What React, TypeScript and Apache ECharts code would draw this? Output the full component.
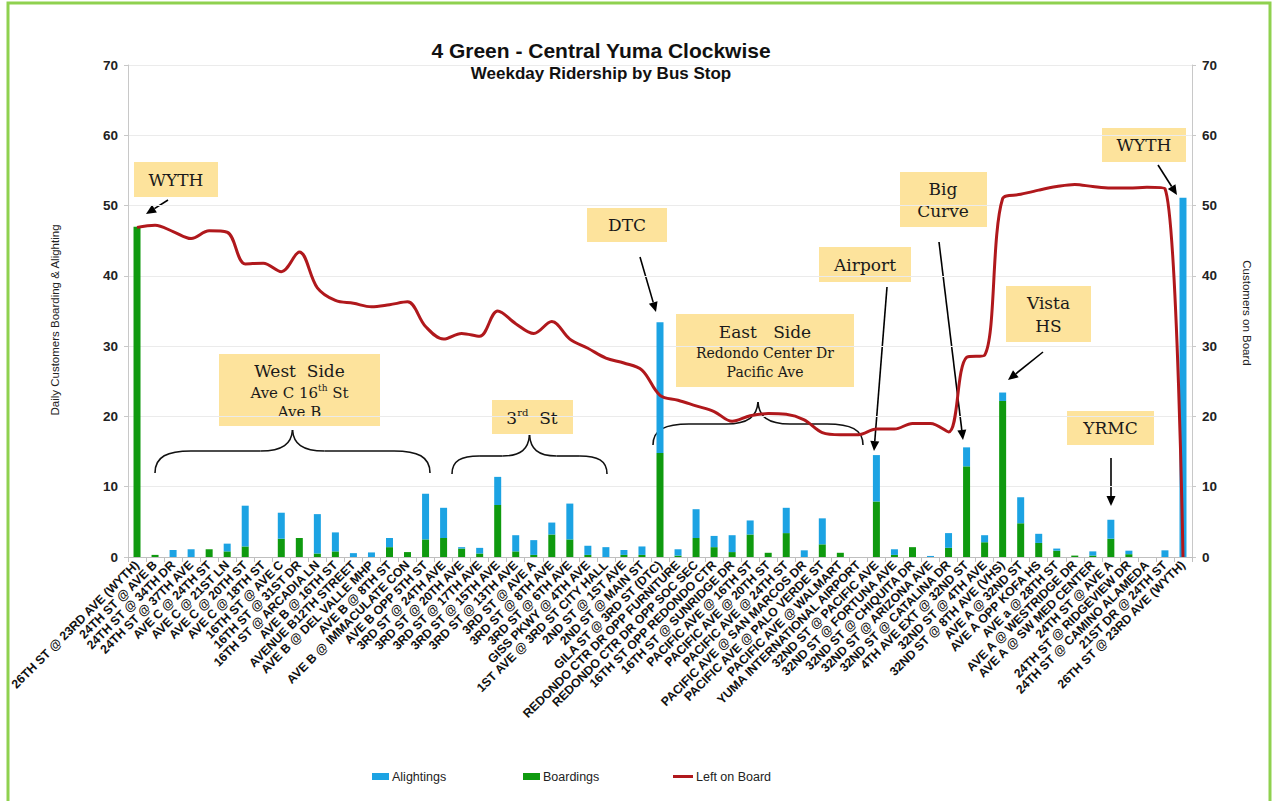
import React, { useEffect, useRef } from "react";
import * as echarts from "echarts";

const stops: string[] = [
  "26TH ST @ 23RD AVE (WYTH)",
  "24TH ST @ AVE B",
  "24TH ST @ 34TH DR",
  "24TH ST @ 37TH AVE",
  "AVE C @ 24TH ST",
  "AVE C @ 21ST LN",
  "AVE C @ 20TH ST",
  "AVE C @ 18TH ST",
  "16TH ST @ AVE C",
  "16TH ST @ 31ST DR",
  "16TH ST @ ARCADIA LN",
  "AVE B @ 16TH ST",
  "AVENUE B12TH STREET",
  "AVE B @ DEL VALLE MHP",
  "AVE B @ 8TH ST",
  "AVE B @ IMMACULATE CON",
  "AVE B OPP 5TH ST",
  "3RD ST @ 24TH AVE",
  "3RD ST @ 20TH AVE",
  "3RD ST @ 17TH AVE",
  "3RD ST @ 15TH AVE",
  "3RD ST @ 13TH AVE",
  "3RD ST @ AVE A",
  "3RD ST @ 8TH AVE",
  "3RD ST @ 6TH AVE",
  "GISS PKWY @ 4TH AVE",
  "1ST AVE @ 3RD ST CITY HALL",
  "2ND ST @ 1ST AVE",
  "2ND ST @ MAIN ST",
  "GILA ST @ 3RD ST (DTC)",
  "REDONDO CTR DR OPP FURNITURE",
  "REDONDO CTR DR OPP SOC SEC",
  "16TH ST OPP REDONDO CTR",
  "16TH ST @ SUNRIDGE DR",
  "PACIFIC AVE @ 16TH ST",
  "PACIFIC AVE @ 20TH ST",
  "PACIFIC AVE @ 24TH ST",
  "PACIFIC AVE @ SAN MARCOS DR",
  "PACIFIC AVE @ PALO VERDE ST",
  "PACIFIC AVE @ WALMART",
  "YUMA INTERNATIONAL AIRPORT",
  "32ND ST @ PACIFIC AVE",
  "32ND ST @ FORTUNA AVE",
  "32ND ST @ CHIQUITA DR",
  "32ND ST @ ARIZONA AVE",
  "32ND ST @ CATALINA DR",
  "4TH AVE EXT @ 32ND ST",
  "32ND ST @ 4TH AVE",
  "32ND ST @ 8TH AVE (VHS)",
  "AVE A @ 32ND ST",
  "AVE A OPP KOFA HS",
  "AVE a @ 28TH ST",
  "AVE A @ WESTRIDGE DR",
  "AVE A @ SW MED CENTER",
  "24TH ST @ AVE A",
  "24TH ST @ RIDGEVIEW DR",
  "24TH ST @ CAMINO ALAMEDA",
  "21ST DR @ 24TH ST",
  "26TH ST @ 23RD AVE (WYTH)",
];

const boardings: number[] = [
  47, 0.3, 0, 0, 1.1, 0.8, 1.5, 0, 2.6, 2.7,
  0.5, 0.8, 0, 0, 1.4, 0.7, 2.5, 2.7, 1.2, 0.5,
  7.4, 0.8, 0.3, 3.2, 2.5, 0.3, 0, 0.3, 0.3, 14.8,
  0.2, 2.7, 1.4, 0.7, 3.2, 0.6, 3.4, 0, 1.8, 0.6,
  0, 7.9, 0.3, 1.4, 0, 1.3, 12.9, 2.1, 22.2, 4.8,
  2.0, 0.9, 0.2, 0.2, 2.6, 0.4, 0, 0, 0,
];

const alightings: number[] = [
  0, 0, 1.0, 1.1, 0, 1.1, 5.8, 0, 3.7, 0,
  5.6, 2.7, 0.55, 0.65, 1.3, 0, 6.5, 4.3, 0.2, 0.8,
  4.0, 2.3, 2.1, 1.7, 5.1, 1.3, 1.4, 0.7, 1.2, 18.6,
  0.9, 4.1, 1.6, 2.4, 2.0, 0, 3.6, 0.95, 3.7, 0,
  0, 6.6, 0.8, 0, 0.15, 2.1, 2.7, 1.0, 1.2, 3.7,
  1.3, 0.3, 0, 0.6, 2.7, 0.5, 0, 0.95, 51.1,
];

const leftOnBoard: number[] = [
  46.9, 47.2, 46.3, 45.3, 46.4, 46.2, 41.7, 41.8, 40.6, 43.4,
  38.3, 36.5, 36.1, 35.6, 35.9, 36.3, 32.8, 31.0, 31.8, 31.4,
  35.0, 33.2, 31.8, 33.5, 31.0, 29.7, 28.3, 27.6, 26.6, 23.0,
  22.3, 21.5, 20.7, 19.3, 20.1, 20.4, 20.3, 19.5, 17.7, 17.4,
  17.4, 18.2, 18.2, 19.0, 19.0, 17.8, 28.4, 28.7, 51.0, 51.6,
  52.2, 52.7, 53.0, 52.7, 52.5, 52.5, 52.6, 52.4, 0,
];

const BLUE = "#1CA3E3";
const GREEN = "#0F9A0F";
const RED = "#B0181C";
const BOX = "#FDE39C";
const SERIF_NAME = "DejaVu Serif";
const SERIF = "'DejaVu Serif', 'Liberation Serif', serif";
const SANS = "'Liberation Sans', Arial, sans-serif";

function arrow(x1: number, y1: number, x2: number, y2: number) {
  const ang = Math.atan2(y2 - y1, x2 - x1);
  const L = 10;
  const W = 4.5;
  const bx = x2 - L * Math.cos(ang);
  const by = y2 - L * Math.sin(ang);
  const px = -Math.sin(ang) * W;
  const py = Math.cos(ang) * W;
  return [
    { type: "line", shape: { x1, y1, x2: bx, y2: by }, style: { stroke: "#000", lineWidth: 1.6 } },
    {
      type: "polygon",
      shape: { points: [[x2, y2], [bx + px, by + py], [bx - px, by - py]] },
      style: { fill: "#000" },
    },
  ];
}

function brace(x1: number, x2: number, yEnd: number, yH: number, yPeak: number) {
  const xm = (x1 + x2) / 2;
  const d = Math.min(36, (xm - x1) * 0.35);
  const t = Math.min(32, (xm - x1) * 0.35);
  const s = { stroke: "#111", lineWidth: 1.6, fill: "none" };
  const els: any[] = [];
  for (const dir of [1, -1]) {
    const xe = dir === 1 ? x1 : x2;
    els.push({
      type: "bezierCurve",
      shape: {
        x1: xe, y1: yEnd,
        cpx1: xe, cpy1: yEnd - (yEnd - yH) * 0.75,
        cpx2: xe + dir * d * 0.35, cpy2: yH,
        x2: xe + dir * d, y2: yH,
      },
      style: s,
    });
    els.push({
      type: "line",
      shape: { x1: xe + dir * d, y1: yH, x2: xm - dir * t, y2: yH },
      style: s,
    });
    els.push({
      type: "bezierCurve",
      shape: {
        x1: xm - dir * t, y1: yH,
        cpx1: xm - dir * t * 0.3, cpy1: yH,
        cpx2: xm - dir * 1, cpy2: yH - (yH - yPeak) * 0.35,
        x2: xm, y2: yPeak,
      },
      style: s,
    });
  }
  return els;
}

function box(x: number, y: number, w: number, h: number) {
  return { type: "rect", shape: { x, y, width: w, height: h }, style: { fill: BOX } };
}

function label(x: number, y: number, text: string, size: number) {
  return {
    type: "text",
    x,
    y,
    style: {
      text,
      fontSize: size,
      fontFamily: SERIF,
      fill: "#1a1a1a",
      align: "center",
      verticalAlign: "middle",
    },
  };
}

let measureCtx: CanvasRenderingContext2D | null = null;
function measure(text: string, size: number) {
  if (!measureCtx) {
    const c = document.createElement("canvas");
    measureCtx = c.getContext("2d");
  }
  if (!measureCtx) return text.length * size * 0.6;
  measureCtx.font = `${size}px "${SERIF_NAME}"`;
  return measureCtx.measureText(text).width;
}

// parts: [text, isSuperscript]
function supLabel(cx: number, cy: number, parts: [string, boolean][], size: number) {
  const supSize = Math.round(size * 0.6);
  const widths = parts.map(([t, sup]) => measure(t, sup ? supSize : size));
  const total = widths.reduce((a, b) => a + b, 0);
  let x = cx - total / 2;
  const els: any[] = [];
  parts.forEach(([t, sup], i) => {
    els.push({
      type: "text",
      x,
      y: sup ? cy - size * 0.32 : cy,
      style: {
        text: t,
        fontSize: sup ? supSize : size,
        fontFamily: SERIF,
        fill: "#1a1a1a",
        align: "left",
        verticalAlign: "middle",
      },
    });
    x += widths[i];
  });
  return els;
}

export default function App() {
  const ref = useRef<HTMLDivElement>(null);

  useEffect(() => {
    if (!ref.current) return;
    const chart = echarts.init(ref.current, undefined, { renderer: "svg" });

    const graphics: any[] = [
      {
        type: "rect",
        shape: { x: 8, y: 3, width: 1262, height: 812 },
        style: { fill: "none", stroke: "#8FD14F", lineWidth: 3 },
        z: 0,
      },
      {
        type: "text", x: 601, y: 50,
        style: { text: "4 Green - Central Yuma Clockwise", fontSize: 21, fontWeight: "bold", fontFamily: SANS, fill: "#111", align: "center", verticalAlign: "middle" },
      },
      {
        type: "text", x: 601, y: 73,
        style: { text: "Weekday Ridership by Bus Stop", fontSize: 17, fontWeight: "bold", fontFamily: SANS, fill: "#111", align: "center", verticalAlign: "middle" },
      },
      {
        type: "text", x: 55, y: 320, rotation: Math.PI / 2,
        style: { text: "Daily Customers Boarding & Alighting", fontSize: 11.5, fontFamily: SANS, fill: "#222", align: "center", verticalAlign: "middle" },
      },
      {
        type: "text", x: 1247, y: 313, rotation: -Math.PI / 2,
        style: { text: "Customers on Board", fontSize: 11.5, fontFamily: SANS, fill: "#222", align: "center", verticalAlign: "middle" },
      },
      // WYTH (start)
      box(134, 162, 84, 35),
      label(176, 180, "WYTH", 17),
      ...arrow(168, 200, 146, 214),
      // DTC
      box(587, 208, 80, 34),
      label(627, 225, "DTC", 17),
      ...arrow(640, 257, 656, 312),
      // West Side
      box(219, 354, 161, 72),
      label(299.5, 371, "West  Side", 17),
      ...supLabel(299.5, 393, [["Ave C 16", false], ["th", true], [" St", false]], 15),
      label(299.5, 412, "Ave B", 15),
      ...brace(155, 430, 473, 451, 430),
      // 3rd St
      box(492, 400, 81, 34),
      ...supLabel(532, 418, [["3", false], ["rd", true], ["  St", false]], 17),
      ...brace(452, 607, 474, 456, 435),
      // East Side
      box(676, 314, 178, 73),
      label(765, 332, "East   Side", 17),
      label(765, 353, "Redondo Center Dr", 14),
      label(765, 372, "Pacific Ave", 14),
      ...brace(653, 863, 445, 424, 402),
      // Airport
      box(819, 247, 92, 35),
      label(865, 265, "Airport", 17),
      ...arrow(887, 287, 874, 451),
      // Big Curve
      box(900, 172, 87, 55),
      label(943, 189, "Big", 17),
      label(943, 211, "Curve", 17),
      ...arrow(939, 242, 963, 440),
      // Vista HS
      box(1006, 286, 85, 56),
      label(1048.5, 303, "Vista", 17),
      label(1048.5, 326, "HS", 17),
      ...arrow(1043, 352, 1008, 380),
      // YRMC
      box(1067, 411, 87, 34),
      label(1110.5, 428, "YRMC", 17),
      ...arrow(1111, 458, 1111, 506),
      // WYTH (end)
      box(1102, 128, 84, 34),
      label(1144, 145, "WYTH", 17),
      ...arrow(1158, 165, 1177, 195),
    ];

    const legendBase = {
      orient: "horizontal",
      top: 770,
      padding: 0,
      itemGap: 0,
      selectedMode: false,
      textStyle: { fontSize: 12.5, fontFamily: SANS, color: "#222", padding: [0, 0, 0, -2] },
    };

    chart.setOption({
      animation: false,
      backgroundColor: "#ffffff",
      grid: { left: 128, right: 81, top: 65, bottom: 244, containLabel: false },
      legend: [
        { ...legendBase, left: 372, data: [{ name: "Alightings", icon: "rect" }], itemWidth: 17, itemHeight: 7 },
        { ...legendBase, left: 523, data: [{ name: "Boardings", icon: "rect" }], itemWidth: 17, itemHeight: 7 },
        { ...legendBase, left: 673, data: [{ name: "Left on Board", icon: "rect" }], itemWidth: 20, itemHeight: 3 },
      ],
      xAxis: {
        type: "category",
        data: stops,
        boundaryGap: true,
        axisLine: { show: true, lineStyle: { color: "#BFBFBF", width: 1 } },
        axisTick: { show: true, alignWithLabel: false, length: 5, lineStyle: { color: "#BFBFBF" } },
        axisLabel: {
          interval: 0,
          rotate: 45,
          fontSize: 12.3,
          fontWeight: "bold",
          fontFamily: SANS,
          color: "#111",
          margin: 6,
        },
        splitLine: { show: false },
      },
      yAxis: [
        {
          type: "value",
          min: 0,
          max: 70,
          interval: 10,
          position: "left",
          axisLine: { show: true, lineStyle: { color: "#C8C8C8" } },
          axisTick: { show: true, length: 4, lineStyle: { color: "#C8C8C8" } },
          axisLabel: { fontSize: 13.5, fontWeight: "bold", fontFamily: SANS, color: "#222", margin: 10 },
          splitLine: { show: true, lineStyle: { color: "#EBEBEB", width: 1 } },
        },
        {
          type: "value",
          min: 0,
          max: 70,
          interval: 10,
          position: "right",
          axisLine: { show: true, lineStyle: { color: "#C8C8C8" } },
          axisTick: { show: true, length: 4, lineStyle: { color: "#C8C8C8" } },
          axisLabel: { fontSize: 13.5, fontWeight: "bold", fontFamily: SANS, color: "#222", margin: 10 },
          splitLine: { show: false },
        },
      ],
      series: [
        {
          name: "Boardings",
          type: "bar",
          stack: "total",
          data: boardings,
          barWidth: 7,
          itemStyle: { color: GREEN },
          z: 2,
        },
        {
          name: "Alightings",
          type: "bar",
          stack: "total",
          data: alightings,
          barWidth: 7,
          itemStyle: { color: BLUE },
          z: 2,
        },
        {
          name: "Left on Board",
          type: "line",
          yAxisIndex: 1,
          data: leftOnBoard,
          smooth: 0.35,
          symbol: "none",
          lineStyle: { color: RED, width: 3 },
          itemStyle: { color: RED },
          z: 5,
        },
      ],
      graphic: { elements: graphics },
    });

    return () => chart.dispose();
  }, []);

  return (
    <div
      ref={ref}
      style={{ position: "absolute", left: 0, top: 0, width: 1273, height: 801, background: "#fff" }}
    />
  );
}
